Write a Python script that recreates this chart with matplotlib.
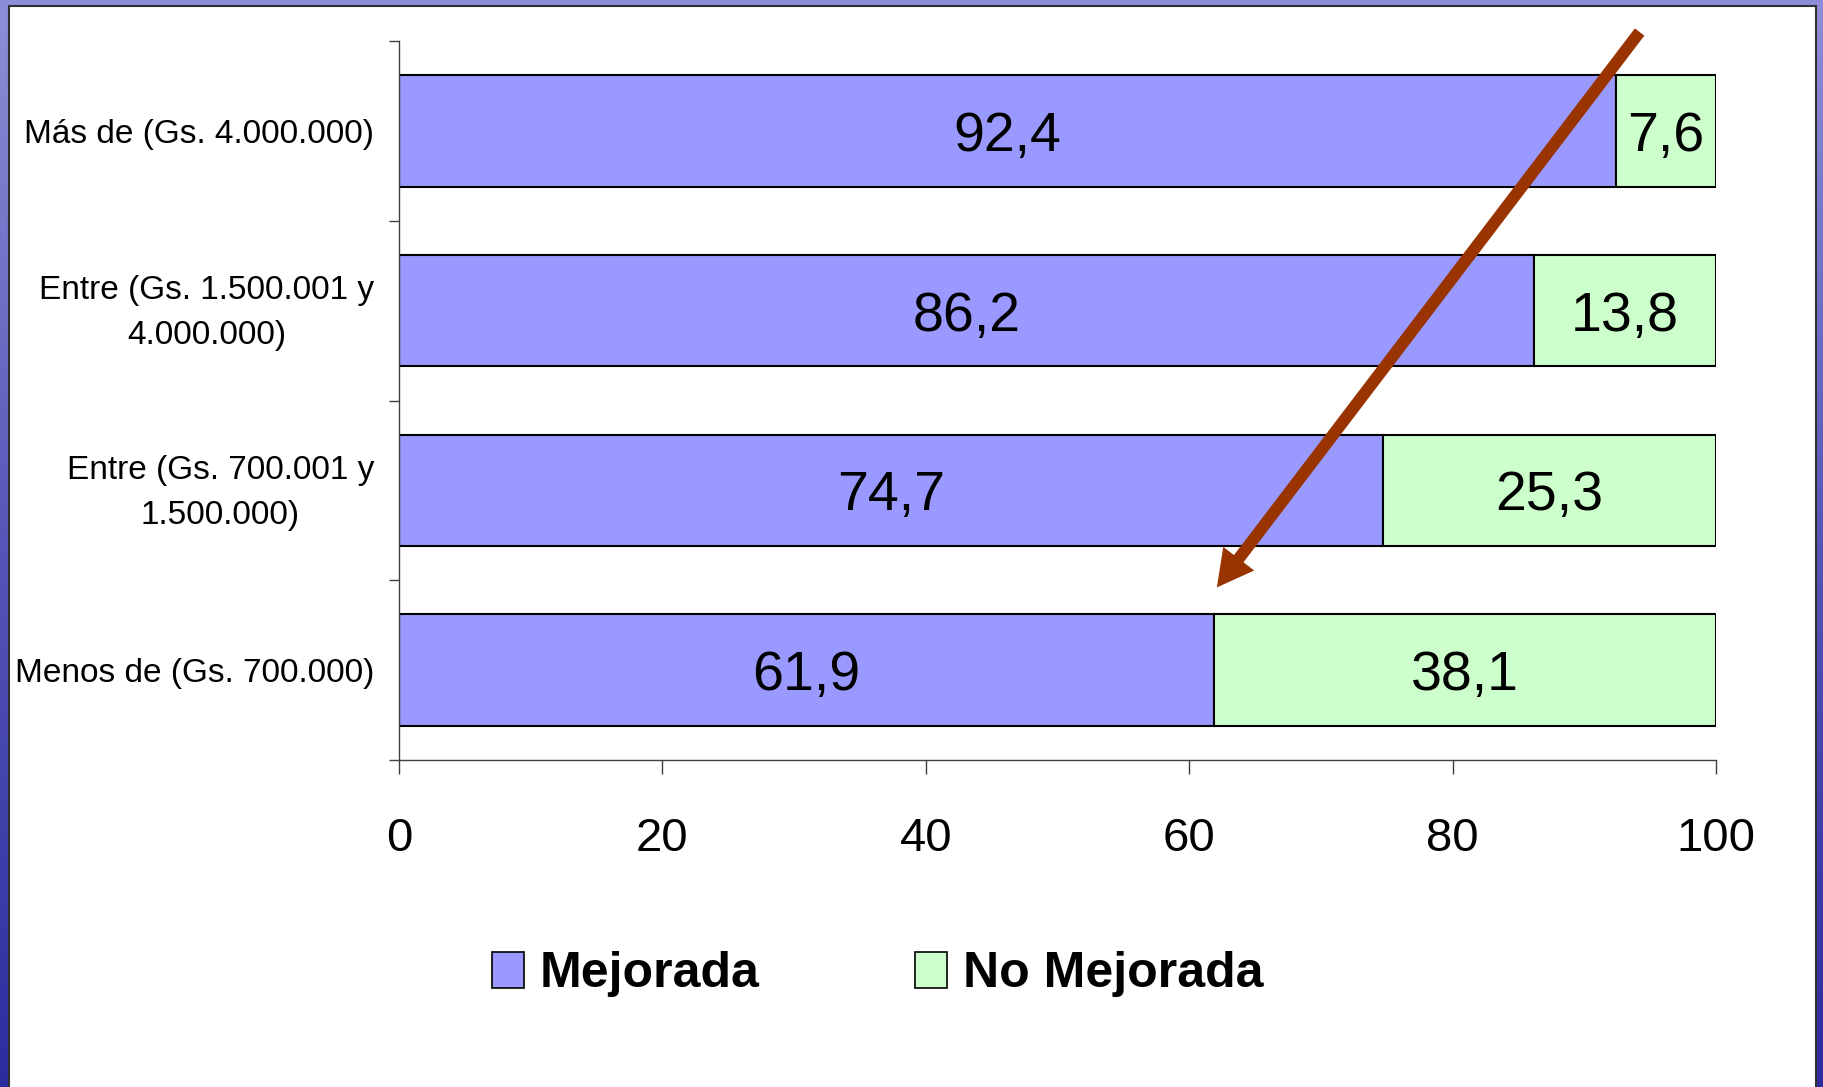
import matplotlib
matplotlib.use("Agg")
import matplotlib.pyplot as plt
import matplotlib.transforms as mtransforms
import numpy as np
from matplotlib import font_manager
from matplotlib.colors import LinearSegmentedColormap
from matplotlib.patches import Patch, Rectangle

# data, bottom to top
categories = [
    "Menos de (Gs. 700.000)",
    "Entre (Gs. 700.001 y\n1.500.000)",
    "Entre (Gs. 1.500.001 y\n4.000.000)",
    "Más de (Gs. 4.000.000)",
]
mejorada = [61.9, 74.7, 86.2, 92.4]
no_mejorada = [38.1, 25.3, 13.8, 7.6]
series_names = ["Mejorada", "No Mejorada"]
x_ticks = [0, 20, 40, 60, 80, 100]

BLUE = "#9999FF"
GREEN = "#CCFFCC"
ARROW = "#993300"

_names = {f.name for f in font_manager.fontManager.ttflist}
NARROW = "Liberation Sans Narrow" if "Liberation Sans Narrow" in _names else "Liberation Sans"
plt.rcParams["font.family"] = ["Liberation Sans", "DejaVu Sans"]

fig = plt.figure(figsize=(18.23, 10.87), dpi=100)

# slide background + white panel
bg = fig.add_axes([0, 0, 1, 1], zorder=-10)
cmap = LinearSegmentedColormap.from_list("slide", ["#8e8ed8", "#5656b8", "#2c2ca0"])
bg.imshow(np.linspace(0, 1, 256).reshape(-1, 1), aspect="auto", cmap=cmap,
          extent=[0, 1, 0, 1], origin="upper")
bg.add_patch(Rectangle((9 / 1823, -0.01), (1816 - 9) / 1823, 1.01 - 6 / 1087,
                       transform=bg.transAxes, facecolor="white",
                       edgecolor="#303030", linewidth=1.5))
bg.set_axis_off()

ax = fig.add_axes([399 / 1823, 1 - 760 / 1087, (1716 - 399) / 1823, (760 - 41) / 1087])
y = np.arange(len(categories))
b1 = ax.barh(y, mejorada, height=0.62, color=BLUE, edgecolor="black", linewidth=1.5,
             label=series_names[0])
b2 = ax.barh(y, no_mejorada, left=mejorada, height=0.62, color=GREEN, edgecolor="black",
             linewidth=1.5, label=series_names[1])
for bars, vals in ((b1, mejorada), (b2, no_mejorada)):
    texts = ax.bar_label(bars, labels=[f"{v:.1f}".replace(".", ",") for v in vals],
                         label_type="center", fontsize=40, family=NARROW)
    for t in texts:
        t.set_va("center_baseline")

ax.set_xlim(0, 100)
ax.set_ylim(-0.5, len(categories) - 0.5)
ax.set_xticks(x_ticks)
ax.set_xticklabels([str(t) for t in x_ticks], family=NARROW, fontsize=34)
ax.set_yticks(y)
ax.set_yticklabels(categories, fontsize=24, multialignment="center", linespacing=1.6)
ax.set_yticks(np.arange(-0.5, len(categories)), minor=True)
ax.tick_params(axis="y", which="major", length=0, pad=18)
ax.tick_params(axis="y", which="minor", length=7, width=1, color="#404040")
ax.tick_params(axis="x", length=10, width=1, color="#404040", pad=31)
# two-line labels sit a little above the bar centre
lift = mtransforms.ScaledTranslation(0, 6 / 72, fig.dpi_scale_trans)
for lab in ax.get_yticklabels():
    if "\n" in lab.get_text():
        lab.set_transform(lab.get_transform() + lift)
for side in ("top", "right"):
    ax.spines[side].set_visible(False)
for side in ("left", "bottom"):
    ax.spines[side].set_color("#404040")
    ax.spines[side].set_linewidth(1)

ax.annotate("", xy=(62.1, 0.46), xytext=(94.2, 3.55), annotation_clip=False,
            arrowprops=dict(arrowstyle="simple,head_length=1.3,head_width=1.4,tail_width=0.43",
                            mutation_scale=20, color=ARROW, lw=0, shrinkA=0, shrinkB=0))

handles = [Patch(facecolor=BLUE, edgecolor="black", linewidth=1.2),
           Patch(facecolor=GREEN, edgecolor="black", linewidth=1.2)]
fig.legend(handles, series_names, loc="center", bbox_to_anchor=(0.4814, 0.1035), ncol=2,
           frameon=False, prop={"weight": "bold", "size": 36}, handlelength=0.64,
           handleheight=0.72, handletextpad=0.32, columnspacing=3.1)

fig.savefig("out.png", dpi=100)
